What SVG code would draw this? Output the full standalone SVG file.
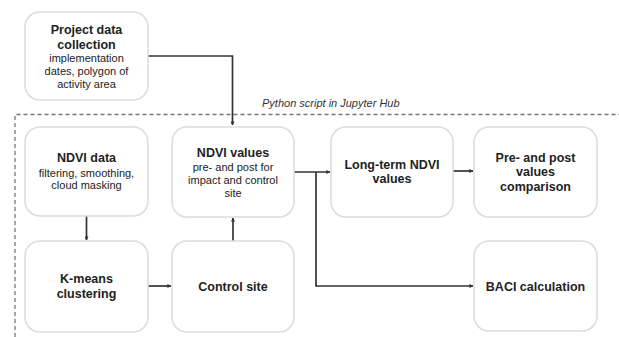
<svg xmlns="http://www.w3.org/2000/svg" width="619" height="337" viewBox="0 0 619 337">
<defs>
<marker id="ah" viewBox="0 0 10 10" refX="9" refY="5" markerWidth="4" markerHeight="4" orient="auto" markerUnits="userSpaceOnUse">
<path d="M0,0 L10,5 L0,10 z" fill="#333"/>
</marker>
<style>
.box{fill:#fff;stroke:#dcdcdc;stroke-width:1.5}
.t{font-family:"Liberation Sans",Arial,sans-serif;fill:#222;text-anchor:middle}
.b{font-weight:bold;font-size:12.5px}
.r{font-size:11px}
.c{fill:none;stroke:#333;stroke-width:1.7}
.d{fill:none;stroke:#777;stroke-width:1.3;stroke-dasharray:4 3}
</style>
</defs>
<rect width="619" height="337" fill="#fff"/>
<g id="frame">
<path class="d" d="M15,337 V114.5 H619"/>
<text x="262" y="107" font-family="'Liberation Sans',Arial,sans-serif" font-style="italic" font-size="11" fill="#333">Python script in Jupyter Hub</text>
</g>
<g id="connectors">
<path class="c" d="M148,56 H232.5 V125" marker-end="url(#ah)"/>
<path class="c" d="M86.5,216 V240" marker-end="url(#ah)"/>
<path class="c" d="M148,286 H171" marker-end="url(#ah)"/>
<path class="c" d="M233,241 V218" marker-end="url(#ah)"/>
<path class="c" d="M294,172 H330" marker-end="url(#ah)"/>
<path class="c" d="M316,172 V286 H473" marker-end="url(#ah)"/>
<path class="c" d="M453,171 H473" marker-end="url(#ah)"/>
</g>
<g id="project">
<rect class="box" x="25" y="12" width="123" height="88" rx="15"/>
<text class="t b" x="86.5" y="34">Project data</text>
<text class="t b" x="86.5" y="49">collection</text>
<text class="t r" x="86.5" y="62">implementation</text>
<text class="t r" x="86.5" y="75">dates, polygon of</text>
<text class="t r" x="86.5" y="88">activity area</text>
</g>
<g id="ndvidata">
<rect class="box" x="25" y="127" width="123" height="89" rx="15"/>
<text class="t b" x="86.5" y="162">NDVI data</text>
<text class="t r" x="86.5" y="177">filtering, smoothing,</text>
<text class="t r" x="86.5" y="189">cloud masking</text>
</g>
<g id="ndvivalues">
<rect class="box" x="172" y="127" width="122" height="90" rx="15"/>
<text class="t b" x="233" y="157">NDVI  values</text>
<text class="t r" x="233" y="171">pre- and post for</text>
<text class="t r" x="233" y="184">impact and control</text>
<text class="t r" x="233" y="197">site</text>
</g>
<g id="longterm">
<rect class="box" x="331" y="127" width="122" height="90" rx="15"/>
<text class="t b" x="392" y="169">Long-term NDVI</text>
<text class="t b" x="392" y="183">values</text>
</g>
<g id="prepost">
<rect class="box" x="474" y="127" width="123" height="90" rx="15"/>
<text class="t b" x="535.5" y="162">Pre- and post</text>
<text class="t b" x="535.5" y="176">values</text>
<text class="t b" x="535.5" y="191">comparison</text>
</g>
<g id="kmeans">
<rect class="box" x="25" y="241" width="123" height="91" rx="15"/>
<text class="t b" x="86.5" y="283">K-means</text>
<text class="t b" x="86.5" y="298">clustering</text>
</g>
<g id="control">
<rect class="box" x="172" y="241" width="122" height="91" rx="15"/>
<text class="t b" x="233" y="291">Control site</text>
</g>
<g id="baci">
<rect class="box" x="474" y="241" width="123" height="90" rx="15"/>
<text class="t b" x="535.5" y="291">BACI calculation</text>
</g>
</svg>
